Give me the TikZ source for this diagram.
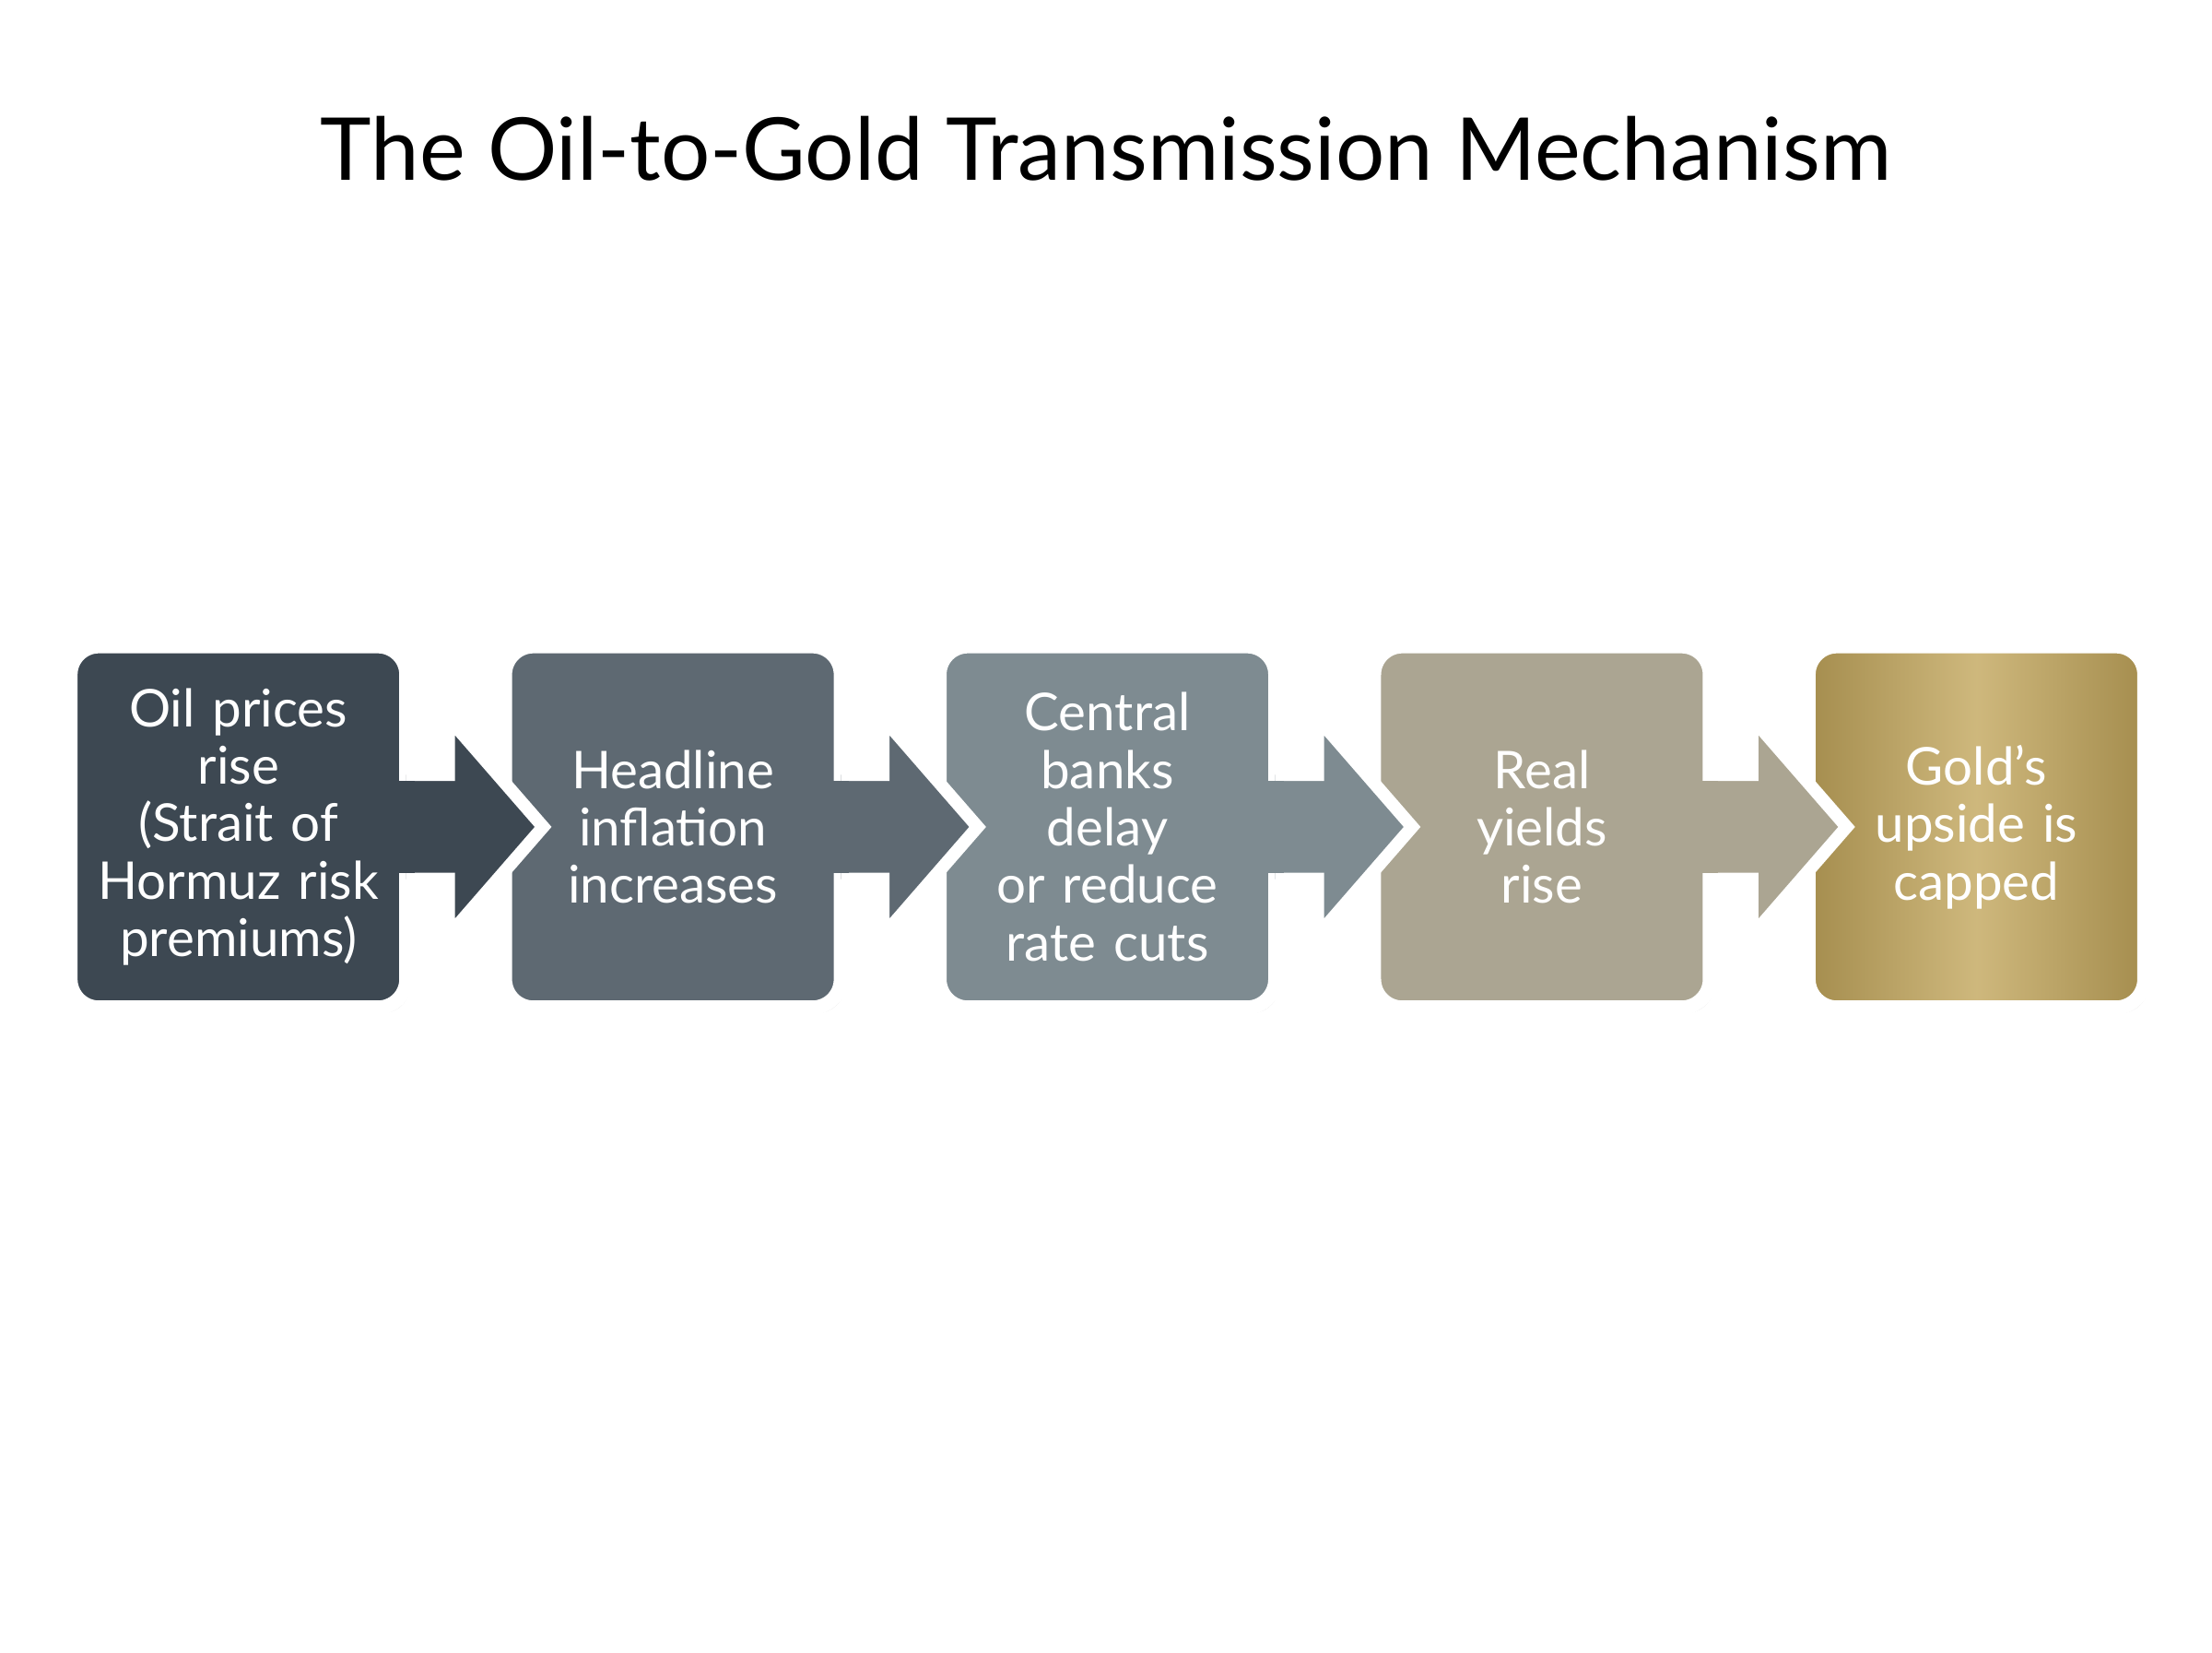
\documentclass[tikz,border=0pt]{standalone}
\usepackage{fontspec}
\setmainfont{Lato}
\usetikzlibrary{positioning,shadows}
\definecolor{stageA}{HTML}{3D4852}
\definecolor{stageB}{HTML}{5E6972}
\definecolor{stageC}{HTML}{7E8B91}
\definecolor{stageD}{HTML}{ABA592}
\definecolor{stageE}{HTML}{C2A65C}
\tikzset{
  stage/.style={draw=white, line width=1mm, rounded corners=2mm,
    inner sep=0pt, outer sep=0pt,
    minimum width=2.38cm, minimum height=2.56cm, text width=2.3cm,
    align=center, text=white, font=\fontsize{10.5}{11.6}\selectfont,
    drop shadow={shadow xshift=0.3mm, shadow yshift=-0.4mm, opacity=0.35}},
  push/.style={draw=white, line width=0.9mm, line join=miter}
}
\begin{document}
\begin{tikzpicture}[node distance=0.70cm]
  \useasboundingbox (0,0) rectangle (15.68,11.71);
  \node[font=\fontsize{17.5}{20}\selectfont] (title) at (7.84,10.66) {The Oil-to-Gold Transmission Mechanism};

  \node[stage, fill=stageA] (b1) at (1.69,5.85) {Oil prices\\ rise\\ (Strait of\\ Hormuz risk\\ premiums)};
  \node[stage, fill=stageB, right=of b1] (b2) {Headline\\ inflation\\ increases};
  \node[stage, fill=stageC, right=of b2] (b3) {Central\\ banks\\ delay\\ or reduce\\ rate cuts};
  \node[stage, fill=stageD, right=of b3] (b4) {Real\\ yields\\ rise};
  \node[stage, left color=stageE!85!black, right color=stageE!85!black, middle color=stageE!80!white, right=of b4] (b5) {Gold’s\\ upside is\\ capped};

  % connectors
  \foreach \a/\col in {b1/stageA, b2/stageB, b3/stageC, b4/stageD} {
    \draw[push, fill=\col] ([yshift=0.37cm]\a.east) -- ++(0.3,0) -- ++(0,0.4)
      -- ++(0.67,-0.77) -- ++(-0.67,-0.77) -- ++(0,0.4) -- ([yshift=-0.37cm]\a.east);
    \fill[\col] ([yshift=0.325cm, xshift=-0.1cm]\a.east) rectangle ([yshift=-0.325cm, xshift=0.06cm]\a.east);
  }
\end{tikzpicture}
\end{document}
